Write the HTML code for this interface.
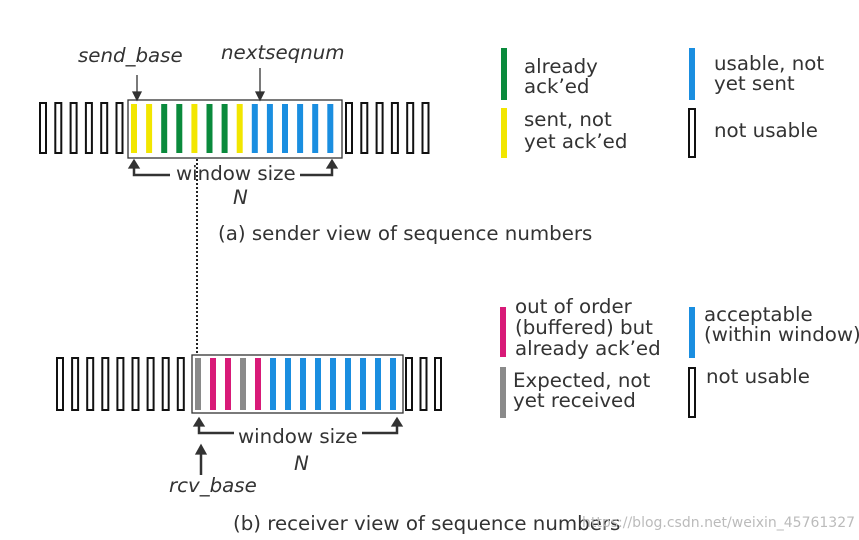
<!DOCTYPE html>
<html><head><meta charset="utf-8"><style>
html,body{margin:0;padding:0;background:#fff;}
svg{display:block;}
text{font-family:"DejaVu Sans","Liberation Sans",sans-serif;fill:#333;}
</style></head><body>
<svg id="s" width="859" height="540" viewBox="0 0 859 540" xmlns="http://www.w3.org/2000/svg">
<g font-size="19.8">
<text x="78" y="62" font-style="italic">send_base</text>
<text x="221" y="59" font-style="italic">nextseqnum</text>
<text x="176" y="180">window size</text>
<text x="233" y="204" font-style="italic">N</text>
<text x="218" y="240">(a) sender view of sequence numbers</text>
<text x="238" y="443">window size</text>
<text x="294" y="470" font-style="italic">N</text>
<text x="169" y="492" font-style="italic">rcv_base</text>
<text x="233" y="530">(b) receiver view of sequence numbers</text>
<text x="524" y="73">already</text><text x="524" y="93">ack’ed</text>
<text x="524" y="126">sent, not</text><text x="524" y="148">yet ack’ed</text>
<text x="714" y="70">usable, not</text><text x="714" y="90">yet sent</text>
<text x="714" y="137">not usable</text>
<text x="515" y="313">out of order</text><text x="515" y="334">(buffered) but</text><text x="515" y="355">already ack’ed</text>
<text x="513" y="387">Expected, not</text><text x="513" y="407">yet received</text>
<text x="704" y="321">acceptable</text><text x="704" y="341">(within window)</text>
<text x="706" y="383">not usable</text>
</g>
<text x="582" y="527" font-size="14" style="fill:#bbb">https://blog.csdn.net/weixin_45761327</text>
<rect x="128" y="100" width="214" height="58" fill="none" stroke="#333" stroke-width="1.3"/>
<rect x="192" y="355" width="211" height="58" fill="none" stroke="#333" stroke-width="1.3"/>
<line x1="197" y1="159" x2="197" y2="355" stroke="#222" stroke-width="2" stroke-dasharray="2,2"/>
<g stroke="#333" stroke-width="1.3" fill="#333">
<line x1="137" y1="75" x2="137" y2="94"/><polygon points="133,92 141,92 137,100"/>
<line x1="260" y1="68" x2="260" y2="94"/><polygon points="256,92 264,92 260,100"/>
<polyline points="134,166 134,175 170,175" fill="none" stroke-width="2.5"/><polygon points="129,168 139,168 134,160"/>
<polyline points="300,175 332,175 332,166" fill="none" stroke-width="2.5"/><polygon points="327,168 337,168 332,160"/>
<polyline points="199,423 199,433 234,433" fill="none" stroke-width="2.5"/><polygon points="194,426 204,426 199,418"/>
<polyline points="362,433 397,433 397,423" fill="none" stroke-width="2.5"/><polygon points="392,426 402,426 397,418"/>
<line x1="201" y1="475" x2="201" y2="452" stroke-width="2.5"/><polygon points="196,454 206,454 201,445"/>
</g>
<g id="bars"></g>
</svg>
<script>
var g=document.getElementById('bars'),ns='http://www.w3.org/2000/svg';
function r(x,y,h,c){var e=document.createElementNS(ns,'rect');e.setAttribute('x',x);e.setAttribute('y',y);e.setAttribute('width',6);e.setAttribute('height',h);
if(c){e.setAttribute('fill',c);}else{e.setAttribute('fill','none');e.setAttribute('stroke','#111');e.setAttribute('stroke-width','2');}g.appendChild(e);}
var Y='#f2e600',G='#0a8a3c',B='#1a8ee0',M='#d81a78',A='#8a8a8a';
for(var i=0;i<6;i++)r(40+i*15.3,103,50);
var sc=[Y,Y,G,G,Y,G,G,Y,B,B,B,B,B,B];
for(var i=0;i<14;i++)r(131+i*15.1,104,49,sc[i]);
for(var i=0;i<6;i++)r(346+i*15.3,103,50);
for(var i=0;i<9;i++)r(57+i*15.1,358,52);
var rc=[A,M,M,A,M,B,B,B,B,B,B,B,B,B];
for(var i=0;i<14;i++)r(195+i*15,358,52,rc[i]);
for(var i=0;i<3;i++)r(406+i*14.5,358,52);
r(501,48,52,G);r(501,108,50,Y);r(689,48,52,B);r(689,109,48);
r(500,307,50,M);r(500,367,51,A);r(689,307,51,B);r(689,368,49);
</script>
</body></html>
